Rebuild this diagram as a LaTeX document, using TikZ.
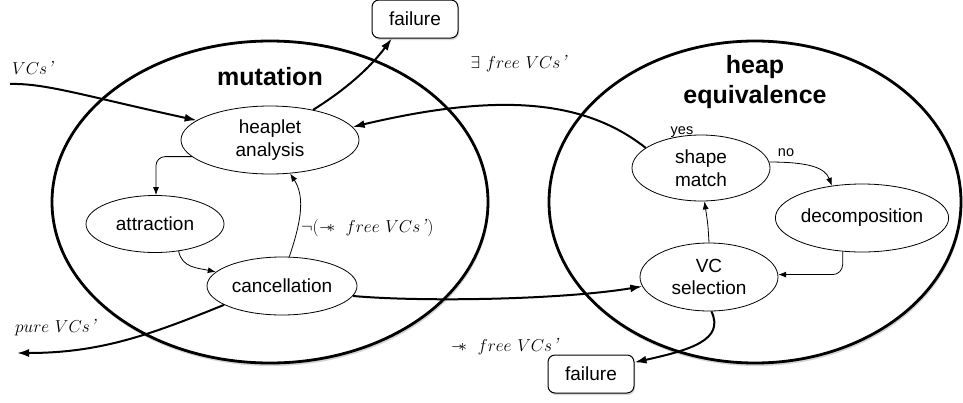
\documentclass[tikz,border=0pt]{standalone}
\usepackage{fontspec}
\newfontfamily\hv{Liberation Sans}
\usetikzlibrary{shapes.geometric,shadows,arrows.meta}
\newcommand{\wand}{\mathrel{-\!\!\ast}}
\newcommand{\vcq}{$VCs$\textit{'}}
\begin{document}
\begin{tikzpicture}[x=1pt,y=-1pt,
  region/.style={ellipse, draw, line width=2.8pt, fill=white, inner sep=0pt,
    drop shadow={shadow xshift=1pt, shadow yshift=-3pt, opacity=.35}},
  proc/.style={ellipse, draw, line width=0.8pt, fill=white, inner sep=0pt,
    font=\hv\fontsize{19}{22.5}\selectfont, align=center},
  failbox/.style={rectangle, rounded corners=7pt, draw, line width=1pt, fill=white,
    minimum width=86pt, minimum height=38pt, inner sep=0pt,
    font=\hv\fontsize{19}{22.5}\selectfont,
    drop shadow={shadow xshift=1pt, shadow yshift=-2pt, opacity=.3}},
  title/.style={font=\hv\bfseries\fontsize{25}{30}\selectfont, align=center, inner sep=0pt},
  mlabel/.style={font=\fontsize{19}{23}\selectfont, inner sep=0pt},
  small/.style={font=\hv\fontsize{14.5}{17}\selectfont, inner sep=0pt},
  bigarrow/.style={line width=2pt, -{Latex[length=12pt,width=8pt]}},
  thinarrow/.style={line width=0.8pt, -{Latex[length=8pt,width=6pt]}},
]
\useasboundingbox (0,0) rectangle (963,402);

% regions
\node[region, minimum width=436pt, minimum height=322pt] (mut) at (270,202) {};
\node[region, minimum width=412pt, minimum height=322pt] (heq) at (755,202) {};

\node[title] (tmut) at (270,77) {mutation};
\node[title] (theq) at (755,82) {heap\\equivalence};

% processes
\node[proc, minimum width=178pt, minimum height=68pt] (heap) at (270,140) {heaplet\\analysis};
\node[proc, minimum width=138pt, minimum height=57pt] (attr) at (155,224) {attraction};
\node[proc, minimum width=150pt, minimum height=58pt] (canc) at (282,286) {cancellation};
\node[proc, minimum width=138pt, minimum height=66pt] (shape) at (701,168) {shape\\match};
\node[proc, minimum width=170pt, minimum height=68pt] (decomp) at (862,218) {decomposition};
\node[proc, minimum width=138pt, minimum height=68pt] (vcs) at (709,277) {VC\\selection};

\node[failbox] (fail1) at (415,19) {failure};
\node[failbox] (fail2) at (591,374) {failure};

% free ends
\coordinate (vcin) at (10,84);
\coordinate (pureout) at (17,353);

% labels
\node[mlabel, anchor=west] (lvc) at (12,68) {\vcq};
\node[mlabel] (lex) at (519,64) {$\exists\ free\ $\vcq};
\node[mlabel, anchor=west] (lneg) at (301,228) {$\neg(\wand\ free\ $\vcq$)$};
\node[mlabel, anchor=west] (lpure) at (15,328) {$pure\ $\vcq};
\node[mlabel] (lwand) at (505,347) {$\wand\ free\ $\vcq};
\node[small] (lyes) at (682,132) {yes};
\node[small] (lno) at (786,153) {no};

% connectors
\draw[bigarrow] (vcin) .. controls (45,83) and (85,96) .. (heap.165);
\draw[bigarrow] (heap.35) .. controls (345,90) and (370,68) .. (fail1.-140);
\draw[bigarrow] (shape.160) .. controls (585,100) and (500,92) .. (heap.9);
\draw[thinarrow, rounded corners=9pt] (heap.192) -| (attr.88);
\draw[thinarrow] (attr.-49) .. controls (182,268) and (198,268) .. (canc.168);
\draw[thinarrow] (canc.76) .. controls (300,225) and (306,198) .. (heap.-59);
\draw[bigarrow] (canc.198) .. controls (150,335) and (100,353) .. (pureout);
\draw[bigarrow] (canc.-8) .. controls (420,302) and (560,300) .. (vcs.188);
\draw[thinarrow] (shape.5) .. controls (810,162) and (825,168) .. (decomp.133);
\draw[thinarrow, rounded corners=10pt] (decomp.-120) |- (vcs.2);
\draw[thinarrow] (vcs.north) .. controls (708,225) .. (shape.-84);
\draw[bigarrow] (vcs.-86) .. controls (725,340) and (690,350) .. (fail2.15);
\end{tikzpicture}
\end{document}
